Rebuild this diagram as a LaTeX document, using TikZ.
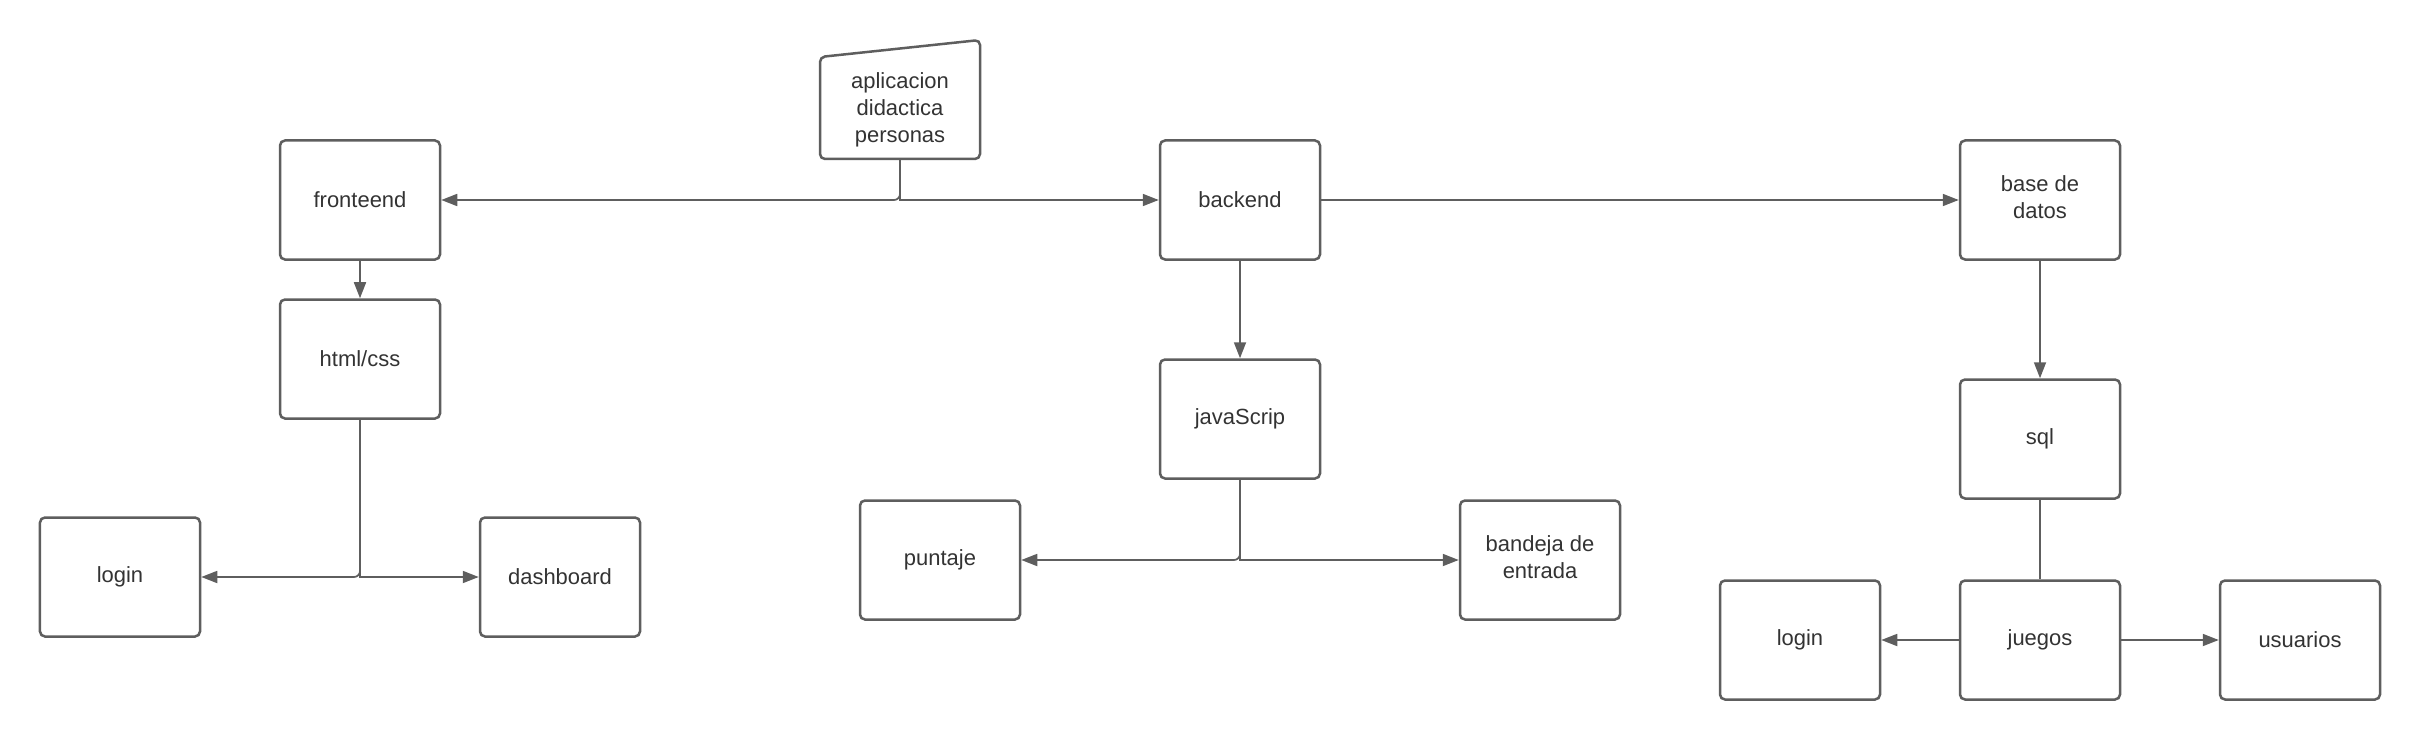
\documentclass[tikz,border=0pt]{standalone}
\usepackage{fontspec}
\setmainfont{Liberation Sans}
\usetikzlibrary{arrows.meta, calc}
\definecolor{linegray}{HTML}{5E5E5E}
\definecolor{textgray}{HTML}{333333}

\begin{document}
\begin{tikzpicture}[x=0.2mm, y=-0.2mm,
    >={Triangle[length=3.2mm,width=2.4mm]},
    box/.style={draw=linegray, line width=0.5mm, rounded corners=1mm,
      minimum width=32mm, minimum height=23.8mm, inner sep=0pt,
      align=center, text=textgray, font=\fontsize{12.5}{15.3}\selectfont},
    twoline/.style={text depth=1.2mm},
    conn/.style={draw=linegray, line width=0.35mm}]
  \useasboundingbox (0,0) rectangle (2420,740);
  % frontend side
  \node[box] (front) at (360,200) {fronteend};
  \node[box] (html) at (360,359) {html/css};
  \node[box] (loginA) at (120,577) {login};
  \node[box] (dash) at (560,577) {dashboard};
  % app shape (manual input)
  \node[align=center, text=textgray, font=\fontsize{12.5}{15.3}\selectfont,
        inner sep=0pt] (app) at (900,110) {aplicacion\\didactica\\personas};
  \draw[draw=linegray, line width=0.5mm, rounded corners=1mm]
    ($(app)+(-80,49)$) -- ($(app)+(-80,-53)$) -- ($(app)+(80,-70)$)
    -- ($(app)+(80,49)$) -- cycle;
  \coordinate (appbot) at ($(app)+(0,49)$);
  % backend side
  \node[box] (back) at (1240,200) {backend};
  \node[box] (js) at (1240,419) {javaScrip};
  \node[box] (score) at (940,560) {puntaje};
  \node[box,twoline] (inbox) at (1540,560) {bandeja de\\entrada};
  % database side
  \node[box,twoline] (db) at (2040,200) {base de\\datos};
  \node[box] (sql) at (2040,439) {sql};
  \node[box] (loginB) at (1800,640) {login};
  \node[box] (games) at (2040,640) {juegos};
  \node[box] (users) at (2300,640) {usuarios};
  % connectors
  \draw[conn,->,rounded corners=1.2mm] (appbot) |- (front.east);
  \draw[conn,->] (appbot) |- (back.west);
  \draw[conn,->] (front.south) -- (html.north);
  \draw[conn,->,rounded corners=1.2mm] (html.south) |- (loginA.east);
  \draw[conn,->] (html.south) |- (dash.west);
  \draw[conn,->] (back.east) -- (db.west);
  \draw[conn,->] (back.south) -- (js.north);
  \draw[conn,->,rounded corners=1.2mm] (js.south) |- (score.east);
  \draw[conn,->] (js.south) |- (inbox.west);
  \draw[conn,->] (db.south) -- (sql.north);
  \draw[conn] (sql.south) -- (games.north);
  \draw[conn,->] (games.west) -- (loginB.east);
  \draw[conn,->] (games.east) -- (users.west);
\end{tikzpicture}
\end{document}
